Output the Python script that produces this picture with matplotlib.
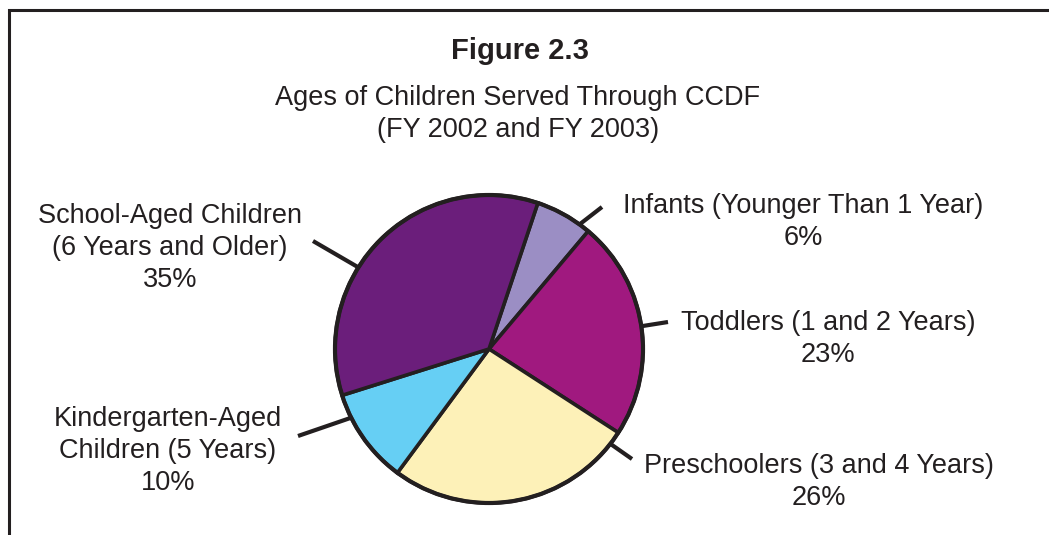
import numpy as np
import matplotlib
matplotlib.use("Agg")
import matplotlib.pyplot as plt

plt.rcParams['font.family'] = ['Liberation Sans', 'DejaVu Sans']

# CCDF children served, FY 2002 and FY 2003 (percent)
groups = ["Infants (Younger Than 1 Year)",
          "Toddlers (1 and 2 Years)",
          "Preschoolers (3 and 4 Years)",
          "Kindergarten-Aged\nChildren (5 Years)",
          "School-Aged Children\n(6 Years and Older)"]
shares = [6, 23, 26, 10, 35]
colors = ["#9b8ec4", "#a0197f", "#fdf1b8", "#66cff4", "#6b1e7b"]

ink = "#231f20"

# label centres and leader lines (pixel units, y up)
label_xy = [(803, 313), (828, 196), (819, 53), (168, 84), (170, 287)]
leader_angle = [54, 8.5, -38, -153.5, 148]
leader_end = [(602, 328), (668, 213), (632, 76), (298, 99), (313, 294)]

fig = plt.figure(figsize=(10.49, 5.35), dpi=100)
ax = fig.add_axes([0, 0, 1, 1])

cx, cy, r = 489, 186, 154
wedges, _ = ax.pie(shares, colors=colors, startangle=71.5, counterclock=False,
                   center=(cx, cy), radius=r, frame=True,
                   wedgeprops=dict(edgecolor=ink, linewidth=2.6))
ax.axis('off')
ax.set_xlim(0, 1049)
ax.set_ylim(0, 535)
ax.set_aspect('equal')
circle = plt.Circle((cx, cy), r, fill=False, edgecolor=ink, linewidth=3)
ax.add_patch(circle)

for name, val, (tx, ty), ang, (ex, ey) in zip(groups, shares, label_xy,
                                               leader_angle, leader_end):
    a = np.deg2rad(ang)
    ax.plot([cx + r * np.cos(a), ex], [cy + r * np.sin(a), ey],
            color=ink, lw=3, solid_capstyle='butt')
    ax.text(tx, ty, f"{name}\n{val}%", ha='center', va='center',
            fontsize=19.5, color=ink, linespacing=1.3)

ax.text(520, 484, "Figure 2.3", ha='center', va='center', fontsize=21,
        fontweight='bold', color=ink)
ax.text(518, 421, "Ages of Children Served Through CCDF\n(FY 2002 and FY 2003)",
        ha='center', va='center', fontsize=19.5, color=ink, linespacing=1.3)

# open frame: left and top rules
ax.plot([8.5, 8.5, 1049], [0, 525, 525], color=ink, lw=2.2,
        solid_joinstyle='miter')

fig.savefig("out.png", dpi=100)
